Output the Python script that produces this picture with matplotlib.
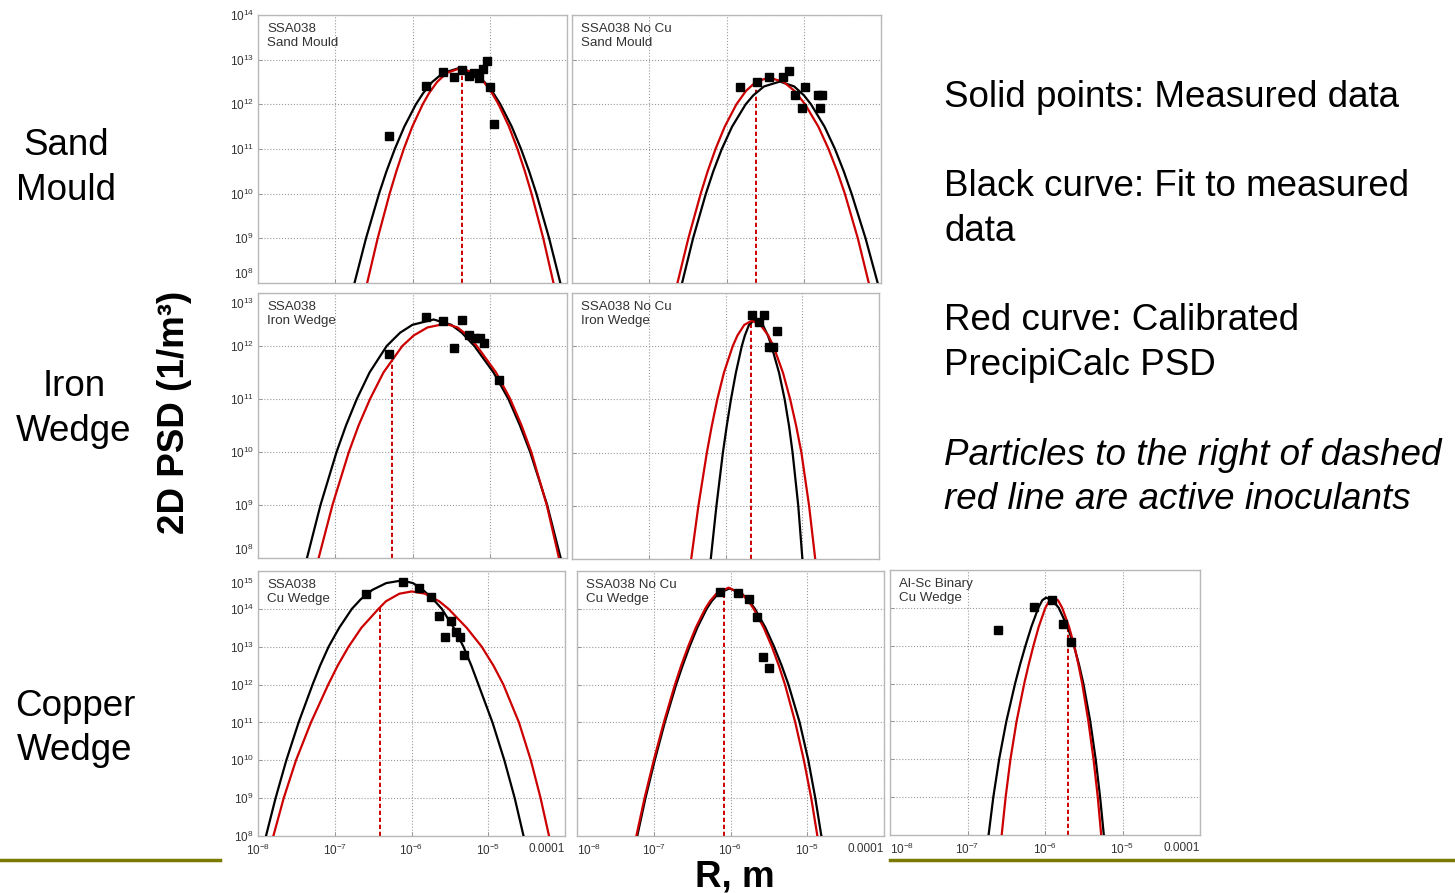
import numpy as np
import matplotlib
matplotlib.use("Agg")
import matplotlib.pyplot as plt
import matplotlib.transforms as mtransforms
from matplotlib.lines import Line2D
from matplotlib.ticker import FixedLocator, FixedFormatter, NullLocator

plt.rcParams['font.family'] = ['Liberation Sans', 'DejaVu Sans']
plt.rcParams['mathtext.fontset'] = 'custom'
plt.rcParams['mathtext.rm'] = 'Liberation Sans'
plt.rcParams['mathtext.it'] = 'Liberation Sans:italic'
plt.rcParams['mathtext.bf'] = 'Liberation Sans:bold'

# all values are log10: x = log10 R (m), y = log10 PSD (1/m^3)

# SSA038, sand mould
sm_pts_x = [-6.309, -5.825, -5.610, -5.463, -5.359, -5.273, -5.204, -5.135, -5.083, -5.031, -4.992, -4.949]
sm_pts_y = [11.28, 12.41, 12.73, 12.61, 12.77, 12.64, 12.71, 12.58, 12.80, 12.96, 12.38, 11.57]
sm_fit_x = [-6.751, -6.602, -6.433, -6.337, -6.229, -6.106, -5.956, -5.862, -5.745, -5.606, -5.402,
            -5.203, -5.068, -4.953, -4.862, -4.715, -4.595, -4.490, -4.396, -4.231, -4.086]
sm_fit_y = [8, 9, 10, 10.5, 11, 11.5, 12, 12.25, 12.5, 12.7, 12.81, 12.7, 12.5, 12.25, 12, 11.5, 11, 10.5, 10, 9, 8]
sm_calc_x = [-6.587, -6.451, -6.296, -6.209, -6.113, -6.003, -5.868, -5.786, -5.682, -5.560, -5.381,
             -5.198, -5.075, -4.970, -4.886, -4.751, -4.641, -4.545, -4.459, -4.307, -4.175]
sm_calc_y = [8, 9, 10, 10.5, 11, 11.5, 12, 12.25, 12.5, 12.7, 12.81, 12.7, 12.5, 12.25, 12, 11.5, 11, 10.5, 10, 9, 8]
sm_cut = (-5.359, 12.80)

# SSA038 No Cu, sand mould
smn_pts_x = [-5.819, -5.603, -5.456, -5.266, -5.188, -5.114, -4.985, -5.019, -4.821, -4.760, -4.786]
smn_pts_y = [12.38, 12.51, 12.62, 12.62, 12.75, 12.21, 12.38, 11.91, 12.21, 12.21, 11.91]
smn_fit_x = [-6.575, -6.433, -6.267, -6.171, -6.061, -5.928, -5.752, -5.654, -5.515, -5.309,
             -5.123, -4.997, -4.906, -4.731, -4.596, -4.482, -4.381, -4.200, -4.043]
smn_fit_y = [8, 9, 10, 10.5, 11, 11.5, 12, 12.2, 12.4, 12.51, 12.4, 12.2, 12, 11.5, 11, 10.5, 10, 9, 8]
smn_calc_x = [-6.635, -6.494, -6.334, -6.244, -6.142, -6.023, -5.872, -5.748, -5.622, -5.451,
              -5.260, -5.119, -4.982, -4.811, -4.679, -4.567, -4.468, -4.300, -4.158]
smn_calc_y = [8, 9, 10, 10.5, 11, 11.5, 12, 12.3, 12.5, 12.60, 12.5, 12.3, 12, 11.5, 11, 10.5, 10, 9, 8]
smn_cut = (-5.624, 12.50)

# SSA038, iron wedge
iw_pts_x = [-6.309, -5.825, -5.610, -5.463, -5.359, -5.273, -5.195, -5.130, -5.079, -4.885]
iw_pts_y = [11.84, 12.545, 12.48, 11.97, 12.50, 12.20, 12.15, 12.15, 12.06, 11.35]
iw_fit_x = [-7.366, -7.191, -6.983, -6.861, -6.721, -6.556, -6.334, -6.161, -6.001, -5.726,
            -5.498, -5.361, -5.199, -4.951, -4.758, -4.609, -4.477, -4.257, -4.082]
iw_fit_y = [8, 9, 10, 10.5, 11, 11.5, 12, 12.25, 12.4, 12.50, 12.4, 12.25, 12, 11.5, 11, 10.5, 10, 9, 8]
iw_calc_x = [-7.215, -7.036, -6.824, -6.698, -6.550, -6.376, -6.132, -5.983, -5.806, -5.575,
             -5.416, -5.289, -5.167, -4.918, -4.735, -4.588, -4.462, -4.262, -4.104]
iw_calc_y = [8, 9, 10, 10.5, 11, 11.5, 12, 12.2, 12.35, 12.42, 12.35, 12.2, 12, 11.5, 11, 10.5, 10, 9, 8]
iw_cut = (-6.265, 11.72)

# SSA038 No Cu, iron wedge
iwn_pts_x = [-5.657, -5.570, -5.497, -5.332, -5.432, -5.375]
iwn_pts_y = [12.58, 12.46, 12.58, 12.28, 11.98, 11.98]
iwn_fit_x = [-6.192, -6.118, -6.034, -5.984, -5.929, -5.865, -5.788, -5.748, -5.694, -5.614,
             -5.514, -5.447, -5.400, -5.302, -5.229, -5.172, -5.126, -5.052, -4.998]
iwn_fit_y = [8, 9, 10, 10.5, 11, 11.5, 12, 12.2, 12.4, 12.51, 12.4, 12.2, 12, 11.5, 11, 10.5, 10, 9, 8]
iwn_calc_x = [-6.447, -6.353, -6.243, -6.179, -6.107, -6.021, -5.906, -5.845, -5.756, -5.657,
              -5.544, -5.443, -5.375, -5.251, -5.157, -5.079, -5.011, -4.911, -4.831]
iwn_calc_y = [8, 9, 10, 10.5, 11, 11.5, 12, 12.2, 12.4, 12.48, 12.4, 12.2, 12, 11.5, 11, 10.5, 10, 9, 8]
iwn_cut = (-5.670, 12.48)

# SSA038, Cu wedge
cw_pts_x = [-6.594, -6.117, -5.900, -5.748, -5.648, -5.488, -5.562, -5.423, -5.367, -5.319]
cw_pts_y = [14.40, 14.71, 14.55, 14.32, 13.81, 13.68, 13.26, 13.39, 13.26, 12.78]
cw_fit_x = [-7.896, -7.771, -7.631, -7.471, -7.289, -7.191, -7.080, -6.942, -6.777, -6.663, -6.511, -6.330,
            -6.126, -5.980, -5.851, -5.716, -5.605, -5.450, -5.323, -5.220, -5.128, -4.945, -4.790, -4.655, -4.540]
cw_fit_y = [8, 9, 10, 11, 12, 12.5, 13, 13.5, 14, 14.25, 14.5, 14.68,
            14.75, 14.68, 14.5, 14.25, 14, 13.5, 13, 12.5, 12, 11, 10, 9, 8]
cw_calc_x = [-7.800, -7.665, -7.505, -7.310, -7.085, -6.962, -6.820, -6.653, -6.430, -6.333, -6.158,
             -5.996, -5.824, -5.639, -5.518, -5.281, -5.085, -4.932, -4.803, -4.600, -4.445, -4.318, -4.208]
cw_calc_y = [8, 9, 10, 11, 12, 12.5, 13, 13.5, 14, 14.2, 14.4,
             14.46, 14.4, 14.2, 14, 13.5, 13, 12.5, 12, 11, 10, 9, 8]
cw_cut = (-6.408, 14.04)

# SSA038 No Cu, Cu wedge
cwn_pts_x = [-6.135, -5.905, -5.757, -5.649, -5.571, -5.492]
cwn_pts_y = [14.45, 14.43, 14.25, 13.79, 12.74, 12.43]
cwn_fit_x = [-7.215, -7.108, -6.987, -6.856, -6.708, -6.624, -6.534, -6.433, -6.311, -6.246, -6.161,
             -6.013, -5.850, -5.754, -5.681, -5.544, -5.432, -5.333, -5.245, -5.099, -4.986, -4.895, -4.816]
cwn_fit_y = [8, 9, 10, 11, 12, 12.5, 13, 13.5, 14, 14.2, 14.4,
             14.54, 14.4, 14.2, 14, 13.5, 13, 12.5, 12, 11, 10, 9, 8]
cwn_calc_x = [-7.227, -7.120, -7.000, -6.869, -6.724, -6.643, -6.553, -6.453, -6.331, -6.268, -6.185,
              -6.026, -5.855, -5.765, -5.697, -5.567, -5.461, -5.370, -5.290, -5.156, -5.044, -4.948, -4.868]
cwn_calc_y = [8, 9, 10, 11, 12, 12.5, 13, 13.5, 14, 14.2, 14.4,
              14.56, 14.4, 14.2, 14, 13.5, 13, 12.5, 12, 11, 10, 9, 8]
cwn_cut = (-6.091, 14.50)

# Al-Sc binary, Cu wedge
alsc_pts_x = [-6.612, -6.138, -5.909, -5.767, -5.659]
alsc_pts_y = [13.41, 14.02, 14.20, 13.58, 13.10]
alsc_fit_x = [-6.728, -6.667, -6.592, -6.499, -6.386, -6.322, -6.252, -6.176, -6.086, -6.035,
              -5.987, -5.904, -5.823, -5.709, -5.627, -5.561, -5.505, -5.416, -5.346, -5.289, -5.241]
alsc_fit_y = [8, 9, 10, 11, 12, 12.5, 13, 13.5, 14, 14.2, 14.27, 14.2, 14, 13.5, 13, 12.5, 12, 11, 10, 9, 8]
alsc_calc_x = [-6.559, -6.508, -6.446, -6.367, -6.268, -6.211, -6.149, -6.081, -5.996, -5.941,
               -5.888, -5.832, -5.778, -5.690, -5.623, -5.569, -5.520, -5.440, -5.374, -5.319, -5.275]
alsc_calc_y = [8, 9, 10, 11, 12, 12.5, 13, 13.5, 14, 14.2, 14.27, 14.2, 14, 13.5, 13, 12.5, 12, 11, 10, 9, 8]
alsc_cut = (-5.707, 13.56)

x_decades = [-8, -7, -6, -5, -4]
x_labels = ['$10^{-8}$', '$10^{-7}$', '$10^{-6}$', '$10^{-5}$', '0.0001']
row_decades = [list(range(8, 15)), list(range(8, 14)), list(range(8, 16))]
row_labels = ["Sand\nMould", "Iron\nWedge", "Copper\nWedge"]

panel_titles = ["SSA038\nSand Mould", "SSA038 No Cu\nSand Mould",
                "SSA038\nIron Wedge", "SSA038 No Cu\nIron Wedge",
                "SSA038\nCu Wedge", "SSA038 No Cu\nCu Wedge", "Al-Sc Binary\nCu Wedge"]

legend_lines = [("Solid points: Measured data", "normal"),
                ("", "normal"),
                ("Black curve: Fit to measured", "normal"),
                ("data", "normal"),
                ("", "normal"),
                ("Red curve: Calibrated", "normal"),
                ("PrecipiCalc PSD", "normal"),
                ("", "normal"),
                ("Particles to the right of dashed", "italic"),
                ("red line are active inoculants", "italic")]

panels = [
    (sm_pts_x, sm_pts_y, sm_fit_x, sm_fit_y, sm_calc_x, sm_calc_y, sm_cut),
    (smn_pts_x, smn_pts_y, smn_fit_x, smn_fit_y, smn_calc_x, smn_calc_y, smn_cut),
    (iw_pts_x, iw_pts_y, iw_fit_x, iw_fit_y, iw_calc_x, iw_calc_y, iw_cut),
    (iwn_pts_x, iwn_pts_y, iwn_fit_x, iwn_fit_y, iwn_calc_x, iwn_calc_y, iwn_cut),
    (cw_pts_x, cw_pts_y, cw_fit_x, cw_fit_y, cw_calc_x, cw_calc_y, cw_cut),
    (cwn_pts_x, cwn_pts_y, cwn_fit_x, cwn_fit_y, cwn_calc_x, cwn_calc_y, cwn_cut),
    (alsc_pts_x, alsc_pts_y, alsc_fit_x, alsc_fit_y, alsc_calc_x, alsc_calc_y, alsc_cut),
]

# layout: pixel boxes (left, top, right, bottom), row, column
W, H = 1455, 893
boxes = [(258, 15, 567, 283, 0, 0), (572, 15, 881, 283, 0, 1),
         (258, 293, 567, 558, 1, 0), (572, 293, 879, 559, 1, 1),
         (258, 571, 565, 836, 2, 0), (577, 571, 884, 836, 2, 1),
         (890, 570, 1200, 835, 2, 2)]
# nudge of end tick labels (points) so rows don't collide, like the original
end_shift = [(0, 7.5), (-7.0, 6.5), (-8.5, 0)]

RED = '#cc0000'
fig = plt.figure(figsize=(W / 100, H / 100), dpi=100)

for (l, t, r, b, row, col), data, title in zip(boxes, panels, panel_titles):
    px, py, fx, fy, cx, cy, cut = data
    ax = fig.add_axes([l / W, 1 - b / H, (r - l) / W, (b - t) / H])
    ax.set_xscale('log')
    ax.set_yscale('log')
    dec = row_decades[row]
    ax.set_xlim(1e-8, 1e-4)
    ax.set_ylim(10.0 ** dec[0], 10.0 ** dec[-1])

    ax.plot(10.0 ** np.array(fx), 10.0 ** np.array(fy), color='black', lw=1.6, zorder=3)
    ax.plot(10.0 ** np.array(cx), 10.0 ** np.array(cy), color=RED, lw=1.6, zorder=3)
    ax.plot([10.0 ** cut[0]] * 2, [10.0 ** dec[0], 10.0 ** cut[1]], color=RED, lw=1.4,
            linestyle=(0, (2.2, 1.4)), zorder=2)
    ax.plot(10.0 ** np.array(px), 10.0 ** np.array(py), 's', color='black', ms=5.3, zorder=4)

    ax.xaxis.set_major_locator(FixedLocator([10.0 ** d for d in x_decades]))
    ax.yaxis.set_major_locator(FixedLocator([10.0 ** d for d in dec]))
    ax.xaxis.set_minor_locator(NullLocator())
    ax.yaxis.set_minor_locator(NullLocator())
    ax.grid(True, linestyle=':', color='#9a9a9a', lw=0.8)
    ax.tick_params(direction='in', length=3, width=0.6, color='#888888',
                   labelsize=8.5, labelcolor='#333333', pad=3)
    ax.tick_params(axis='x', pad=5)
    for s in ax.spines.values():
        s.set_color('#b8b8b8')
        s.set_linewidth(1.0)

    if col == 0:
        ax.yaxis.set_major_formatter(FixedFormatter(['$10^{%d}$' % d for d in dec]))
        ticks = ax.yaxis.get_major_ticks()
        top_dy, bot_dy = end_shift[row]
        ticks[-1].label1.set_transform(ticks[-1].label1.get_transform() +
                                       mtransforms.ScaledTranslation(0, top_dy / 72, fig.dpi_scale_trans))
        ticks[0].label1.set_transform(ticks[0].label1.get_transform() +
                                      mtransforms.ScaledTranslation(0, bot_dy / 72, fig.dpi_scale_trans))
    else:
        ax.set_yticklabels([])
    if row == 2:
        ax.xaxis.set_major_formatter(FixedFormatter(x_labels))
        labs = ax.get_xticklabels()
        labs[-1].set_ha('right')
        if col > 0:
            labs[0].set_ha('left')
    else:
        ax.set_xticklabels([])

    ax.annotate(title, xy=(0, 1), xycoords='axes fraction', xytext=(6.5, -5.5),
                textcoords='offset points', ha='left', va='top', fontsize=9.6,
                color='#333333', linespacing=1.25)

# row labels on the left
row_centers = [(66, 155, 200), (74, 396, 441), (75, 716, 760)]
for text, (xc, y1, y2) in zip(row_labels, row_centers):
    for line, yb in zip(text.split("\n"), (y1, y2)):
        fig.text(xc / W, 1 - yb / H, line, ha='center', va='baseline', fontsize=26.5)

fig.text(175 / W, 1 - 412 / H, "2D PSD (1/m³)", rotation=90, ha='center', va='center',
         fontsize=26.5, fontweight='bold')
fig.text(735 / W, 1 - 886 / H, "R, m", ha='center', va='baseline', fontsize=26.5,
         fontweight='bold')

# explanation text on the right
yb = 107
for line, style in legend_lines:
    if line:
        fig.text(944 / W, 1 - yb / H, line, ha='left', va='baseline', fontsize=26.5, style=style)
    yb += 44.7

# olive slide rules at the bottom
OLIVE = '#7a7a00'
fig.add_artist(Line2D([0, 220 / W], [1 - 860 / H] * 2, color=OLIVE, lw=2.5))
fig.add_artist(Line2D([890 / W, 1], [1 - 860 / H] * 2, color=OLIVE, lw=2.5))

fig.savefig("out.png", dpi=100, facecolor='white')
